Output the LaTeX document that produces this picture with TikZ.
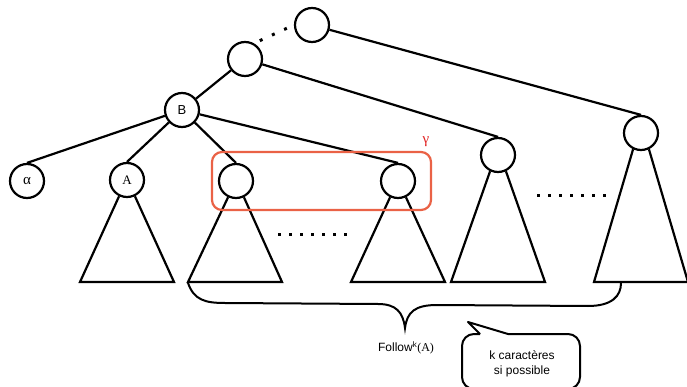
\documentclass[tikz,border=0pt]{standalone}
\usepackage{fontspec}
\setmainfont{Liberation Serif}
\setsansfont{Liberation Sans}
\definecolor{boxred}{RGB}{234,98,70}
\definecolor{gammared}{RGB}{225,35,35}
\begin{document}
\begin{tikzpicture}[x=1pt,y=-1pt,
  vertex/.style={circle,draw,line width=2.2pt,minimum size=34pt,inner sep=0pt,font=\fontsize{13}{13}\selectfont},
  edge/.style={line width=2.2pt},
  subtree/.style={line width=2.2pt,line join=miter},
  dotmark/.style={fill=black,minimum size=3pt,inner sep=0pt,rectangle}]
\useasboundingbox (0,0) rectangle (687,387);
\clip (0,0) rectangle (687,387);

% tree nodes
\node[vertex] (top) at (312,25) {};
\node[vertex] (mid) at (245,59) {};
\node[vertex,font=\sffamily\fontsize{13}{13}\selectfont] (B) at (182,110) {B};
\node[vertex,font=\fontsize{15}{15}\selectfont] (alpha) at (27,181) {α};
\node[vertex] (A) at (127,180) {A};
\node[vertex] (c1) at (236,181) {};
\node[vertex] (c2) at (398,181) {};
\node[vertex] (c3) at (498,155) {};
\node[vertex] (c4) at (641,133) {};

% edges
\draw[line width=3pt,dash pattern=on 3pt off 10.4pt,dash phase=7.1pt] (mid.60) -- (top.west);
\draw[edge] (top) -- (c4.north);
\draw[edge] (mid) -- (B);
\draw[edge] (mid) -- (c3.north);
\draw[edge] (B) -- (alpha.north);
\draw[edge] (B) -- (A.north);
\draw[edge] (B) -- (c1.north);
\draw[edge] (B) -- (c2.north);

% subtrees below the nodes
\foreach \n/\x in {A/127,c1/235,c2/398,c3/498,c4/641}{
  \draw[subtree] (\n.-116) -- (\x-47,282) -- (\x+47,282) -- (\n.-64);
}

% ellipsis marks between subtrees
\foreach \i in {0,...,6}{
  \node[dotmark] at (279+11*\i,234) {};
  \node[dotmark] at (538+11*\i,196) {};
}

% highlighted pair of nodes
\draw[boxred,line width=2.2pt,rounded corners=10pt] (212,152) rectangle (431,210);
\node[text=gammared,font=\fontsize{15}{15}\selectfont] (gamma) at (426,142) {γ};

% brace under the subtrees
\draw[line width=2pt] (188,283) .. controls (194,300) and (205,303) .. (225,303)
  -- (378,304) .. controls (396,304) and (403,312) .. (405,328)
  .. controls (407,312) and (415,305) .. (437,305)
  -- (588,306) .. controls (612,306) and (621,296) .. (621,283);
\node[font=\fontsize{12}{12}\selectfont] (follow) at (406,348)
  {\sffamily Follow\textsuperscript{k}\rmfamily(A)};

% speech bubble
\draw[line width=2pt,line join=round] (508,334) -- (468,322) -- (480,334);
\draw[line width=2pt,rounded corners=12pt] (480,334) -- (462,334) -- (462,389) -- (580,389) -- (580,334) -- (508,334);
\node[font=\sffamily\fontsize{12}{15}\selectfont,align=center] (note) at (522,364)
  {k caractères\\si possible};
\end{tikzpicture}
\end{document}
